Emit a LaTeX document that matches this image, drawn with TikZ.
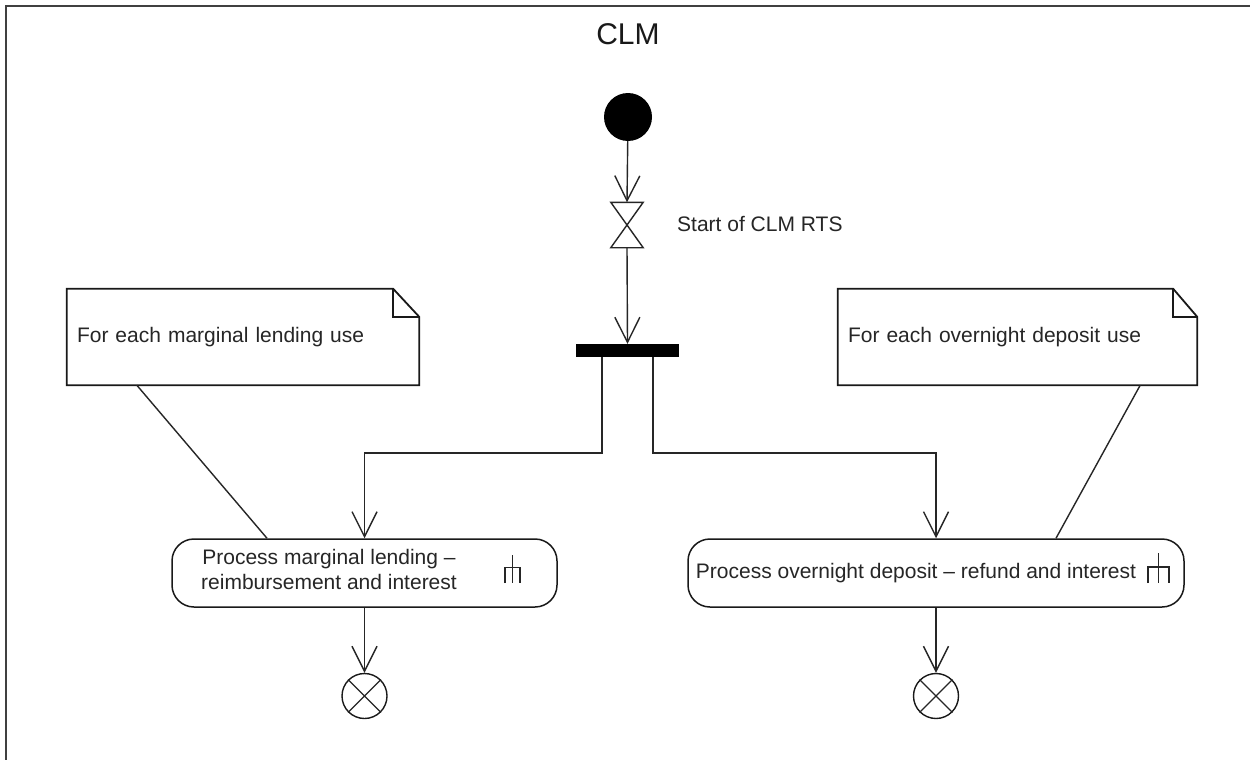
\documentclass[tikz,border=0pt]{standalone}
\usepackage{fontspec}
\setmainfont{Liberation Sans}
\usetikzlibrary{arrows.meta,calc}
\begin{document}
\begin{tikzpicture}[x=1pt,y=-1pt,
  conn/.style={draw=black!85, line width=1.4pt},
  arr/.style={conn, -{Straight Barb[length=25pt,width=25pt,line width=1.4pt]}},
  txt/.style={font=\fontsize{21pt}{25pt}\selectfont, text=black!85, inner sep=0pt},
  notebox/.style={minimum height=96pt, inner xsep=10pt, inner ysep=0pt, align=left,
    font=\fontsize{21pt}{25pt}\selectfont, text=black!85},
  notedraw/.style={draw=black!90, line width=1.8pt, line join=miter},
  actbox/.style={draw=black!90, line width=1.5pt, rounded corners=22pt, minimum height=68pt, inner sep=0pt},
  rake/.style={draw=black!85, line width=1.4pt},
  endnode/.style={circle, draw=black!90, line width=1.4pt, minimum size=45pt, inner sep=0pt},
]
\useasboundingbox (0,0) rectangle (1250,760);
\fill[white] (0,0) rectangle (1250,760);
% frame
\draw[line width=2.6pt, black!75] (1250,6) -- (6,6) -- (6,760);
\node[font=\fontsize{30pt}{36pt}\selectfont, text=black!90, inner sep=0pt] (title) at (628,34) {CLM};

% initial node
\node[circle, fill=black, minimum size=48pt, inner sep=0pt] (init) at (628,117) {};

% accept time event (hourglass)
\node[minimum width=32pt, minimum height=45pt, inner sep=0pt] (hg) at (627,225) {};
\draw[conn, line join=miter] (hg.north west) -- (hg.north east) -- (hg.south west) -- (hg.south east) -- cycle;
\node[txt, anchor=west] (hglabel) at (677,224) {Start of CLM RTS};

% fork bar
\node[fill=black, minimum width=103pt, minimum height=13pt, inner sep=0pt] (fork) at (627.5,350.5) {};

% notes
\node[notebox, text width=332pt] (n1) at (243,337) {For each marginal lending use};
\draw[notedraw] (n1.south west) -- (n1.north west) -- ([xshift=-26pt]n1.north east)
  -- ([yshift=-28pt]n1.north east) -- (n1.south east) -- cycle;
\draw[notedraw] ([xshift=-26pt]n1.north east) -- ([xshift=-26pt,yshift=-28pt]n1.north east) -- ([yshift=-28pt]n1.north east);

\node[notebox, text width=339pt] (n2) at (1017.5,337) {For each overnight deposit use};
\draw[notedraw] (n2.south west) -- (n2.north west) -- ([xshift=-24pt]n2.north east)
  -- ([yshift=-28pt]n2.north east) -- (n2.south east) -- cycle;
\draw[notedraw] ([xshift=-24pt]n2.north east) -- ([xshift=-24pt,yshift=-28pt]n2.north east) -- ([yshift=-28pt]n2.north east);

% activities
\node[actbox, minimum width=385pt] (act1) at (364.5,573) {};
\node[txt, align=center] (act1text) at (329,569.5) {Process marginal lending –\\reimbursement and interest};
\draw[rake] ($(act1.center)+(148,-18)$) -- ($(act1.center)+(148,10)$)
  ($(act1.center)+(140.5,10)$) -- ($(act1.center)+(140.5,-5.5)$) -- ($(act1.center)+(155.5,-5.5)$) -- ($(act1.center)+(155.5,10)$);

\node[actbox, minimum width=496pt] (act2) at (936,573) {};
\node[txt] (act2text) at (916,573) {Process overnight deposit – refund and interest};
\draw[rake] ($(act2.center)+(222.5,-20)$) -- ($(act2.center)+(222.5,10)$)
  ($(act2.center)+(212,10)$) -- ($(act2.center)+(212,-6)$) -- ($(act2.center)+(233,-6)$) -- ($(act2.center)+(233,10)$);

% final nodes
\node[endnode] (e1) at (364.5,696) {};
\draw[conn, line width=1.2pt] (e1.north west) -- (e1.south east) (e1.north east) -- (e1.south west);
\node[endnode] (e2) at (936,696) {};
\draw[conn, line width=1.2pt] (e2.north west) -- (e2.south east) (e2.north east) -- (e2.south west);

% connectors
\draw[arr] (init) -- (hg.north);
\draw[arr] (hg.south) -- (fork.north);
\coordinate (yb) at (0,453);
\coordinate (f1) at ([xshift=-25.5pt]fork.south);
\coordinate (f2) at ([xshift=25.5pt]fork.south);
\draw[arr] (f1) -- (f1 |- yb) -| (act1.north);
\draw[arr] (f2) -- (f2 |- yb) -| (act2.north);
\draw[arr] (act1.south) -- (e1.north);
\draw[arr] (act2.south) -- (e2.north);

% note anchors
\draw[conn] ([xshift=70pt]n1.south west) -- ([xshift=-97.5pt]act1.north);
\draw[conn] ([xshift=-57pt]n2.south east) -- ([xshift=120pt]act2.north);
\end{tikzpicture}
\end{document}
